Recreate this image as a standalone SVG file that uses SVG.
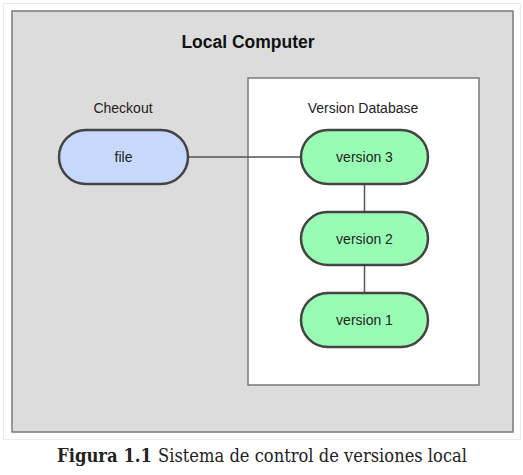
<svg xmlns="http://www.w3.org/2000/svg" width="523" height="475" viewBox="0 0 523 475">
<style>
.lbl{font-family:"Liberation Sans",Arial,sans-serif;font-size:14px;fill:#222;text-anchor:middle}
.node rect{stroke:#444;stroke-width:2.5}
.blue{fill:#c6d9fd}
.green{fill:#99fcb4}
.conn{stroke:#555;stroke-width:1.5;fill:none}
.cap{font-family:"DejaVu Serif","Liberation Serif",serif;font-size:18.5px;fill:#222}
</style>
<rect x="0" y="0" width="523" height="475" fill="#ffffff"/>
<rect x="3.5" y="3.5" width="517" height="436" fill="#ffffff" stroke="#ebebeb" stroke-width="1"/>
<g id="local-computer">
<rect x="12" y="11" width="501" height="421" fill="#dcdcdc" stroke="#7a7a7a" stroke-width="1.5"/>
<text x="248" y="48" font-family="Liberation Sans,Arial,sans-serif" font-size="17.5" font-weight="bold" fill="#111" text-anchor="middle">Local Computer</text>
</g>
<g id="version-database">
<rect x="248" y="78" width="231" height="307" fill="#ffffff" stroke="#7a7a7a" stroke-width="1.5"/>
<text class="lbl" x="363" y="113">Version Database</text>
</g>
<text class="lbl" x="123" y="113">Checkout</text>
<g id="connectors">
<line class="conn" x1="188" y1="157" x2="301" y2="157"/>
<line class="conn" x1="364.5" y1="184" x2="364.5" y2="212"/>
<line class="conn" x1="364.5" y1="265" x2="364.5" y2="293"/>
</g>
<g id="file" class="node">
<rect class="blue" x="59" y="130" width="129" height="54" rx="27" ry="27"/>
<text class="lbl" x="123.5" y="162">file</text>
</g>
<g id="version3" class="node">
<rect class="green" x="301" y="130" width="127" height="54" rx="27" ry="27"/>
<text class="lbl" x="364.5" y="162">version 3</text>
</g>
<g id="version2" class="node">
<rect class="green" x="301" y="212" width="127" height="53" rx="26.5" ry="26.5"/>
<text class="lbl" x="364.5" y="243.5">version 2</text>
</g>
<g id="version1" class="node">
<rect class="green" x="301" y="293" width="127" height="54" rx="27" ry="27"/>
<text class="lbl" x="364.5" y="325">version 1</text>
</g>
<g id="caption">
<text class="cap" x="57" y="462" font-weight="bold" textLength="95" lengthAdjust="spacingAndGlyphs">Figura 1.1</text>
<text class="cap" x="158" y="462" textLength="309" lengthAdjust="spacingAndGlyphs">Sistema de control de versiones local</text>
</g>
</svg>
